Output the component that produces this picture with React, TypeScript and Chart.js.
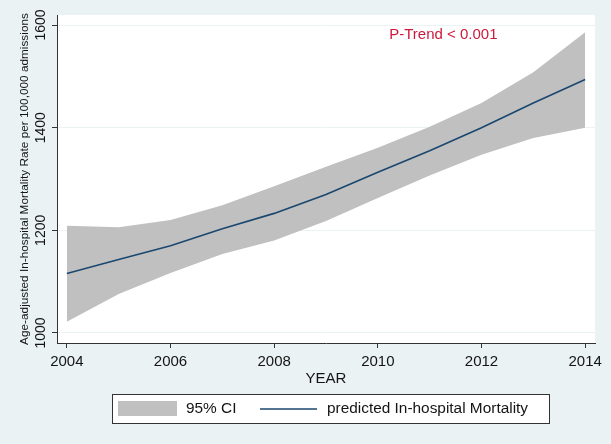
import React, { useEffect, useRef } from 'react';
import { Chart, registerables } from 'chart.js';

Chart.register(...registerables);

// ---- Data ----
const YEARS = [2004, 2005, 2006, 2007, 2008, 2009, 2010, 2011, 2012, 2013, 2014];
const PREDICTED = [1116, 1143, 1170, 1203, 1233, 1270, 1313, 1355, 1400, 1448, 1494];
const CI_UPPER = [1209, 1206, 1220, 1249, 1286, 1324, 1361, 1402, 1448, 1508, 1586];
const CI_LOWER = [1022, 1076, 1117, 1154, 1180, 1218, 1263, 1307, 1347, 1380, 1400];
const X_TICKS = [2004, 2006, 2008, 2010, 2012, 2014];
const Y_TICKS = [1000, 1200, 1400, 1600];

const X_TITLE = 'YEAR';
const Y_TITLE = 'Age-adjusted In-hospital Mortality Rate per 100,000 admissions';
const CI_LABEL = '95% CI';
const LINE_LABEL = 'predicted In-hospital Mortality';
const ANNOTATION = 'P-Trend < 0.001';
const ANNOTATION_X = 2010.22;
const ANNOTATION_Y = 1581;

// ---- Styles ----
const FONT = '"Liberation Sans", Arial, Helvetica, sans-serif';
const BG = '#eaf2f3';
const TEXT = '#141414';
const AXIS = '#333333';
const NAVY = '#1a476f';
const BAND = '#c0c0c0';
const ANNOT_COLOR = '#cc1a3c';

const decorations = {
  id: 'decorations',
  beforeDraw(chart: any) {
    const { ctx, chartArea: a } = chart;
    ctx.save();
    ctx.fillStyle = BG;
    ctx.fillRect(0, 0, chart.width, chart.height);
    ctx.fillStyle = '#ffffff';
    ctx.fillRect(a.left, a.top, a.right - a.left, a.bottom - a.top);
    ctx.restore();
  },
  afterDraw(chart: any) {
    const { ctx, chartArea: a } = chart;
    const xs = chart.scales.x;
    const ys = chart.scales.y;
    ctx.save();

    // Y tick labels (rotated, Stata style)
    ctx.fillStyle = TEXT;
    ctx.font = `14px ${FONT}`;
    ctx.textAlign = 'center';
    ctx.textBaseline = 'middle';
    Y_TICKS.forEach((v) => {
      const py = ys.getPixelForValue(v);
      ctx.save();
      ctx.translate(41, py);
      ctx.rotate(-Math.PI / 2);
      ctx.fillText(String(v), 0, 0);
      ctx.restore();
    });

    // Y axis title
    ctx.font = `11.8px ${FONT}`;
    ctx.save();
    ctx.translate(25, (a.top + a.bottom) / 2);
    ctx.rotate(-Math.PI / 2);
    ctx.fillText(Y_TITLE, 0, 0);
    ctx.restore();

    // Annotation
    ctx.fillStyle = ANNOT_COLOR;
    ctx.font = `15px ${FONT}`;
    ctx.textAlign = 'left';
    ctx.fillText(ANNOTATION, xs.getPixelForValue(ANNOTATION_X), ys.getPixelForValue(ANNOTATION_Y));

    // Legend box
    const bx = 112, by = 394, bw = 437, bh = 29;
    ctx.fillStyle = '#ffffff';
    ctx.fillRect(bx, by, bw, bh);
    ctx.strokeStyle = AXIS;
    ctx.lineWidth = 1;
    ctx.strokeRect(bx + 0.5, by + 0.5, bw, bh);
    const cy = by + bh / 2 + 0.5;
    const ds = chart.data.datasets;
    // CI swatch
    ctx.fillStyle = ds[1].backgroundColor;
    ctx.fillRect(118, 401, 59, 15);
    ctx.fillStyle = TEXT;
    ctx.font = `15.4px ${FONT}`;
    ctx.textBaseline = 'middle';
    ctx.fillText(CI_LABEL, 186, cy);
    // line swatch
    ctx.strokeStyle = ds[0].borderColor;
    ctx.lineWidth = 1.5;
    ctx.beginPath();
    ctx.moveTo(260, cy);
    ctx.lineTo(317, cy);
    ctx.stroke();
    ctx.fillText(LINE_LABEL, 327, cy);

    ctx.restore();
  },
};

export default function App() {
  const canvasRef = useRef<HTMLCanvasElement | null>(null);

  useEffect(() => {
    const canvas = canvasRef.current;
    if (!canvas) return;
    const chart = new Chart(canvas, {
      type: 'line',
      data: {
        datasets: [
          {
            label: LINE_LABEL,
            data: YEARS.map((x, i) => ({ x, y: PREDICTED[i] })),
            borderColor: NAVY,
            borderWidth: 1.6,
            pointRadius: 0,
            tension: 0,
            fill: false,
          },
          {
            label: CI_LABEL,
            data: YEARS.map((x, i) => ({ x, y: CI_UPPER[i] })),
            borderWidth: 0,
            borderColor: 'rgba(0,0,0,0)',
            backgroundColor: BAND,
            pointRadius: 0,
            tension: 0,
            fill: '+1',
          },
          {
            label: CI_LABEL + ' lower',
            data: YEARS.map((x, i) => ({ x, y: CI_LOWER[i] })),
            borderWidth: 0,
            borderColor: 'rgba(0,0,0,0)',
            backgroundColor: BAND,
            pointRadius: 0,
            tension: 0,
            fill: false,
          },
        ],
      },
      options: {
        animation: false,
        responsive: false,
        maintainAspectRatio: false,
        devicePixelRatio: 1,
        layout: { padding: { left: 0, right: 16, top: 15, bottom: 56 } },
        plugins: {
          legend: { display: false },
          tooltip: { enabled: false },
        },
        scales: {
          x: {
            type: 'linear',
            min: 2003.81,
            max: 2014.19,
            afterBuildTicks: (s: any) => {
              s.ticks = X_TICKS.map((v) => ({ value: v }));
            },
            afterFit: (s: any) => {
              s.height = 45;
            },
            grid: {
              drawOnChartArea: false,
              drawTicks: true,
              tickLength: 5,
              tickColor: AXIS,
              tickWidth: 1,
            },
            border: { color: AXIS, width: 1 },
            ticks: {
              color: TEXT,
              font: { family: FONT, size: 15 },
              padding: 5,
              maxRotation: 0,
              autoSkip: false,
              callback: (v: any) => String(v),
            },
            title: {
              display: true,
              text: X_TITLE,
              color: TEXT,
              font: { family: FONT, size: 15 },
              padding: { top: 0, bottom: 0 },
            },
          },
          y: {
            type: 'linear',
            min: 980.5,
            max: 1619.5,
            afterBuildTicks: (s: any) => {
              s.ticks = Y_TICKS.map((v) => ({ value: v }));
            },
            afterFit: (s: any) => {
              s.width = 57;
            },
            grid: {
              color: BG,
              lineWidth: 1,
              drawTicks: true,
              tickLength: 5,
              tickColor: AXIS,
              tickWidth: 1,
            },
            border: { color: AXIS, width: 1 },
            ticks: { display: false },
            title: { display: false },
          },
        },
      },
      plugins: [decorations],
    } as any);
    return () => chart.destroy();
  }, []);

  return (
    <div style={{ position: 'fixed', left: 0, top: 0, width: 611, height: 444, background: BG }}>
      <canvas ref={canvasRef} width={611} height={444} style={{ display: 'block', width: 611, height: 444 }} />
    </div>
  );
}
